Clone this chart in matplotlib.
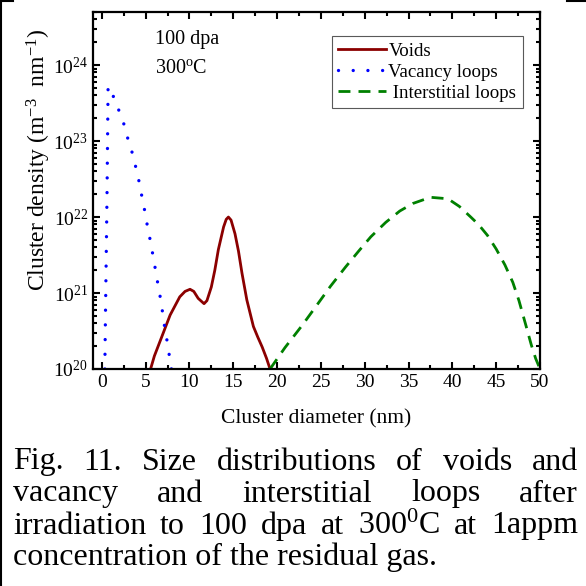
import numpy as np
import matplotlib
matplotlib.use('Agg')
import matplotlib.pyplot as plt
from matplotlib.lines import Line2D
from matplotlib.ticker import MultipleLocator

plt.rcParams['font.family'] = ['Liberation Serif', 'DejaVu Serif']
plt.rcParams['mathtext.fontset'] = 'custom'
plt.rcParams['mathtext.rm'] = 'Liberation Serif'
plt.rcParams['mathtext.it'] = 'Liberation Serif:italic'

# cluster diameter (nm) and density (m^-3 nm^-1)
voids_d = [5.57, 6.0, 7.0, 7.8, 8.9, 9.5, 10.07, 10.5, 11.0, 11.67, 12.0, 12.5,
           12.9, 13.3, 13.9, 14.2, 14.45, 14.75, 15.2, 15.6, 16.0, 16.55, 17.3,
           17.8, 18.3, 18.8, 19.2]
voids_n = [1.0e20, 1.48e20, 2.95e20, 5.13e20, 8.91e20, 1.05e21, 1.12e21, 1.05e21,
           8.51e20, 7.24e20, 7.94e20, 1.2e21, 2.0e21, 3.72e21, 7.41e21, 9.33e21,
           1.0e22, 9.12e21, 6.03e21, 3.55e21, 1.82e21, 8.13e20, 3.63e20, 2.63e20,
           1.95e20, 1.38e20, 1.0e20]

vac_d = [0.35, 0.42, 0.5, 0.6, 0.66, 0.72, 1.49, 2.06, 2.63, 3.09, 3.58, 3.97,
         4.35, 4.65, 5.0, 5.26, 5.6, 5.9, 6.2, 6.5, 6.8, 7.0, 7.3, 7.6, 7.8, 7.95]
vac_n = [1.0e20, 5.0e20, 2.5e21, 2.0e22, 1.0e23, 5.25e23, 3.55e23, 2.34e23,
         1.55e23, 9.5e22, 6.46e22, 4.07e22, 2.63e22, 1.66e22, 1.07e22, 6.9e21,
         4.57e21, 2.82e21, 1.82e21, 1.12e21, 7.4e20, 4.8e20, 2.9e20, 1.9e20,
         1.2e20, 1.0e20]

int_d = [19.2, 20.9, 22.9, 24.6, 26.1, 27.8, 29.3, 30.7, 32.4, 34.0, 35.5, 37.5,
         39.5, 40.8, 42.1, 43.0, 44.0, 45.0, 46.0, 46.9, 47.6, 48.4, 49.0, 49.5,
         50.0]
int_n = [1.0e20, 1.91e20, 3.8e20, 7.08e20, 1.23e21, 2.19e21, 3.55e21, 5.5e21,
         8.51e21, 1.2e22, 1.51e22, 1.82e22, 1.74e22, 1.38e22, 1.0e22, 7.94e21,
         5.75e21, 3.8e21, 2.34e21, 1.38e21, 7.94e20, 3.72e20, 2.09e20, 1.38e20,
         1.0e20]

caption = [
    ["Fig.", "11.", "Size", "distributions", "of", "voids", "and"],
    ["vacancy", "and", "interstitial", "loops", "after"],
    ["irradiation", "to", "100", "dpa", "at", r"300$^\mathregular{0}$C", "at", "1appm"],
    ["concentration of the residual gas."],
]

W = 586
fig = plt.figure(figsize=(5.86, 5.86), dpi=100)
ax = fig.add_axes([93 / W, 1 - 369 / W, 447 / W, 357 / W])

ax.plot(voids_d, voids_n, color='#8b0000', lw=2, label='Voids')
ax.plot(vac_d, vac_n, color='#0000ff', lw=2.4, ls=(0, (0.01, 4.4)),
        dash_capstyle='round', label='Vacancy loops')
ax.plot(int_d, int_n, color='#008000', lw=2, ls=(0, (4.3, 2.9)),
        label=' Interstitial loops')

ax.set_yscale('log')
ax.set_xlim(-1, 50)
ax.set_ylim(1e20, 5e24)
ax.xaxis.set_major_locator(MultipleLocator(5))
ax.xaxis.set_minor_locator(MultipleLocator(2.5))
ax.tick_params(which='both', direction='in', top=True, right=True, width=1.5,
               labelsize=14)
ax.tick_params(which='major', length=5)
ax.tick_params(which='minor', length=3)
for s in ax.spines.values():
    s.set_linewidth(1.6)

ax.set_xlabel('Cluster diameter (nm)', fontsize=15.5, labelpad=13)
ax.set_ylabel(r'Cluster density (m$^\mathregular{-3}$  nm$^\mathregular{-1}$)',
              fontsize=17)
ax.yaxis.set_label_coords(-0.09, 0.585)

ax.text(0.139, 0.922, '100 dpa', transform=ax.transAxes, fontsize=14.5, va='center')
ax.text(0.139, 0.843, r'300$^\mathregular{o}$C', transform=ax.transAxes,
        fontsize=14.5, va='center')

leg = ax.legend(loc='upper left', bbox_to_anchor=(0.534, 0.933), fontsize=13.6,
                frameon=True, fancybox=False, edgecolor='0.35', framealpha=1,
                handlelength=2.55, handletextpad=0.1, labelspacing=0.2,
                borderpad=0.35, borderaxespad=0)
leg.get_frame().set_linewidth(0.8)

# frame fragments at the picture edge
fig.add_artist(Line2D([1 / W, 1 / W], [0, 1], color='k', lw=1.5))
fig.add_artist(Line2D([0, 13 / W], [1 - 1 / W, 1 - 1 / W], color='k', lw=1.5))
fig.add_artist(Line2D([567 / W, 1], [1 - 1 / W, 1 - 1 / W], color='k', lw=1.5))

# justified caption
fig.canvas.draw()
r = fig.canvas.get_renderer()
x0, x1 = 13, 578
line_y = [462, 494, 526, 557]
for words, yc in zip(caption, line_y):
    texts = [fig.text(0, 1 - yc / W, w, fontsize=23, va='center') for w in words]
    widths = [t.get_window_extent(r).width for t in texts]
    if len(words) > 1:
        gap = (x1 - x0 - sum(widths)) / (len(words) - 1)
    else:
        gap = 0
    x = x0
    for t, w in zip(texts, widths):
        t.set_x(x / W)
        x += w + gap

fig.savefig('out.png', dpi=100)
